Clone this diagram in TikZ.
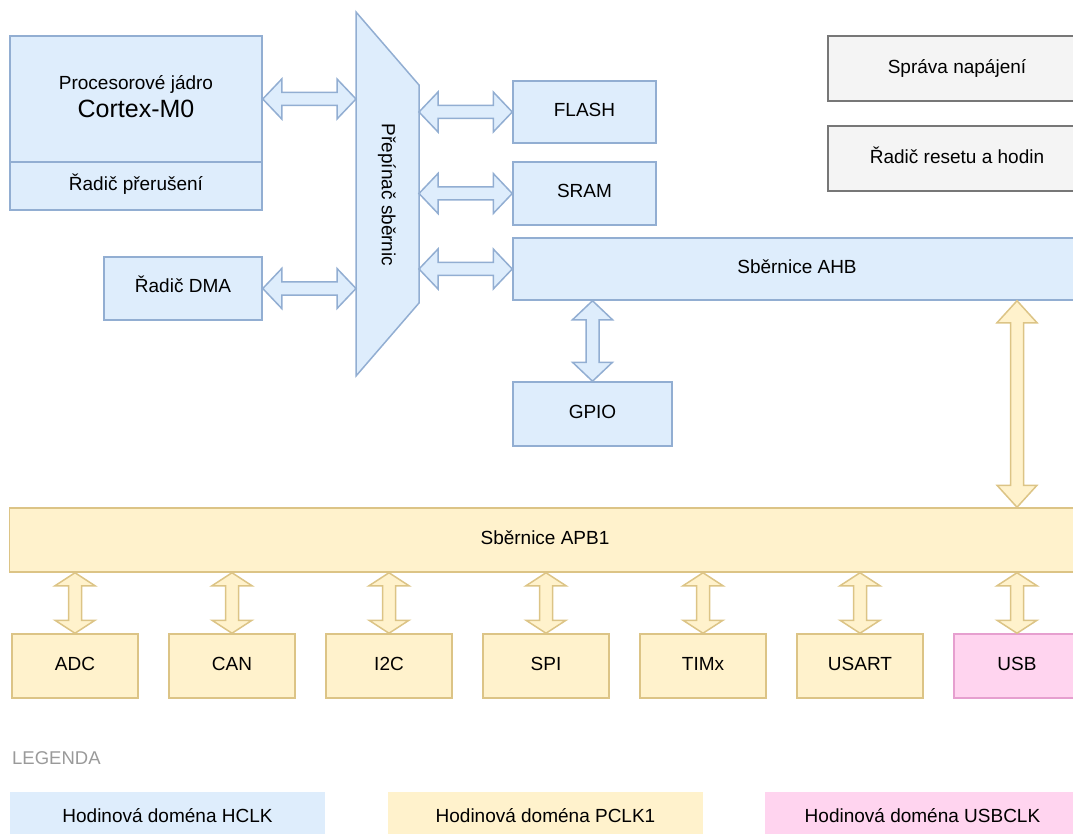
\documentclass[tikz,border=0pt]{standalone}
\usepackage{fontspec}
\setmainfont{Liberation Sans}
\usetikzlibrary{positioning, calc, arrows.meta}

\definecolor{hclkfill}{HTML}{DEEDFC}
\definecolor{hclkline}{HTML}{92AED2}
\definecolor{pclkfill}{HTML}{FFF2CC}
\definecolor{pclkline}{HTML}{DCC486}
\definecolor{usbfill}{HTML}{FFD4EF}
\definecolor{usbline}{HTML}{E69FCF}
\definecolor{sysfill}{HTML}{F4F4F4}
\definecolor{sysline}{HTML}{777777}
\definecolor{legendgray}{HTML}{9A9A9A}

\tikzset{
  txt/.style={font=\fontsize{19}{23}\selectfont, text height=14pt, text depth=5pt},
  blk/.style={draw, line width=1.5pt, minimum height=64pt, inner sep=0pt,
    align=center, txt},
  hclk/.style={blk, fill=hclkfill, draw=hclkline},
  pclk/.style={blk, fill=pclkfill, draw=pclkline},
  usbclk/.style={blk, fill=usbfill, draw=usbline},
  sysblk/.style={blk, fill=sysfill, draw=sysline, text depth=3pt},
  legbox/.style={minimum width=315pt, minimum height=42pt, inner sep=0pt, txt,
    text height=18pt, text depth=0pt},
  hclkarrow/.style={fill=hclkfill, draw=hclkline, line width=1.5pt},
  pclkarrow/.style={fill=pclkfill, draw=pclkline, line width=1.5pt}
}

% double bus arrow: [style]{from}{to}{head length}
\newcommand{\busarrow}[4][hclkarrow]{%
  \draw[#1] (#2)
    -- ($(#2)!#4!(#3)!20pt!90:(#3)$) -- ($(#2)!#4!(#3)!6.5pt!90:(#3)$)
    -- ($(#3)!#4!(#2)!6.5pt!-90:(#2)$) -- ($(#3)!#4!(#2)!20pt!-90:(#2)$)
    -- (#3)
    -- ($(#3)!#4!(#2)!20pt!90:(#2)$) -- ($(#3)!#4!(#2)!6.5pt!90:(#2)$)
    -- ($(#2)!#4!(#3)!6.5pt!-90:(#3)$) -- ($(#2)!#4!(#3)!20pt!-90:(#3)$)
    -- cycle;}

\begin{document}
\begin{tikzpicture}[x=1pt, y=-1pt]
    \useasboundingbox (0,0) rectangle (1073,834);
    \clip (0,0) rectangle (1073,834);

    \node[hclk, minimum width=252pt, minimum height=126pt] (core) at (136,99) {};
    \node[align=center, anchor=base, inner sep=0pt, font=\fontsize{19}{23}\selectfont]
        (coretext) at (136,117.5)
        {Procesorové jádro\\[4.5pt]{\fontsize{25}{28}\selectfont Cortex-M0}};
    \node[hclk, minimum width=252pt, minimum height=48pt] (irq) at (136,186) {Řadič přerušení};
    \node[hclk, minimum width=158pt, minimum height=63pt] (dma) at (183,288.5) {Řadič DMA};

    \draw[hclk] (356,12) coordinate (swtl) -- (419,85) coordinate (swtr)
        -- (419,303) -- (356,376) -- cycle;
    \node[rotate=-90, font=\fontsize{19}{23}\selectfont] (switch) at (387,195) {Přepínač sběrnic};

    \node[hclk, minimum width=143pt, minimum height=62pt] (flash) at (584.5,112) {FLASH};
    \node[hclk, minimum width=143pt, minimum height=63pt] (sram) at (584.5,193.5) {SRAM};
    \node[hclk, minimum width=568pt, minimum height=62pt] (ahb) at (797,269) {Sběrnice AHB};
    \node[hclk, minimum width=159pt] (gpio) at (592.5,414) {GPIO};

    \node[sysblk, minimum width=258pt, minimum height=65pt] (power) at (957,68.5) {Správa napájení};
    \node[sysblk, minimum width=258pt, minimum height=65pt] (rcc) at (957,158.5) {Řadič resetu a hodin};

    \busarrow{core.east}{core.east -| swtl}{19pt}
    \busarrow{dma.east}{dma.east -| swtl}{19pt}
    \busarrow{flash.west -| swtr}{flash.west}{19pt}
    \busarrow{sram.west -| swtr}{sram.west}{19pt}
    \busarrow{ahb.west -| swtr}{ahb.west}{19pt}
    \busarrow{gpio.north |- ahb.south}{gpio.north}{19pt}

    \node[pclk, minimum width=1071pt] (apb) at (545,540) {Sběrnice APB1};

    \foreach \name/\txt/\dom [count=\i from 0] in
        {adc/ADC/pclk, can/CAN/pclk, i2c/I2C/pclk, spi/SPI/pclk,
         timx/TIMx/pclk, usart/USART/pclk, usb/USB/usbclk} {
        \node[\dom, minimum width=126pt] (\name) at ({75+157*\i},666) {\txt};
        \busarrow[pclkarrow]{\name.north |- apb.south}{\name.north}{13pt}
    }

    \busarrow[pclkarrow]{usb.north |- ahb.south}{usb.north |- apb.north}{22pt}

    % legend
    \node[anchor=west, inner sep=0pt, text=legendgray, font=\fontsize{18.5}{22}\selectfont]
        (legtitle) at (12,758) {LEGENDA};
    \node[legbox, fill=hclkfill] (leghclk) at (167.5,813) {Hodinová doména HCLK};
    \node[legbox, fill=pclkfill] (legpclk) at (545.5,813) {Hodinová doména PCLK1};
    \node[legbox, fill=usbfill] (legusb) at (922.5,813) {Hodinová doména USBCLK};
\end{tikzpicture}
\end{document}
